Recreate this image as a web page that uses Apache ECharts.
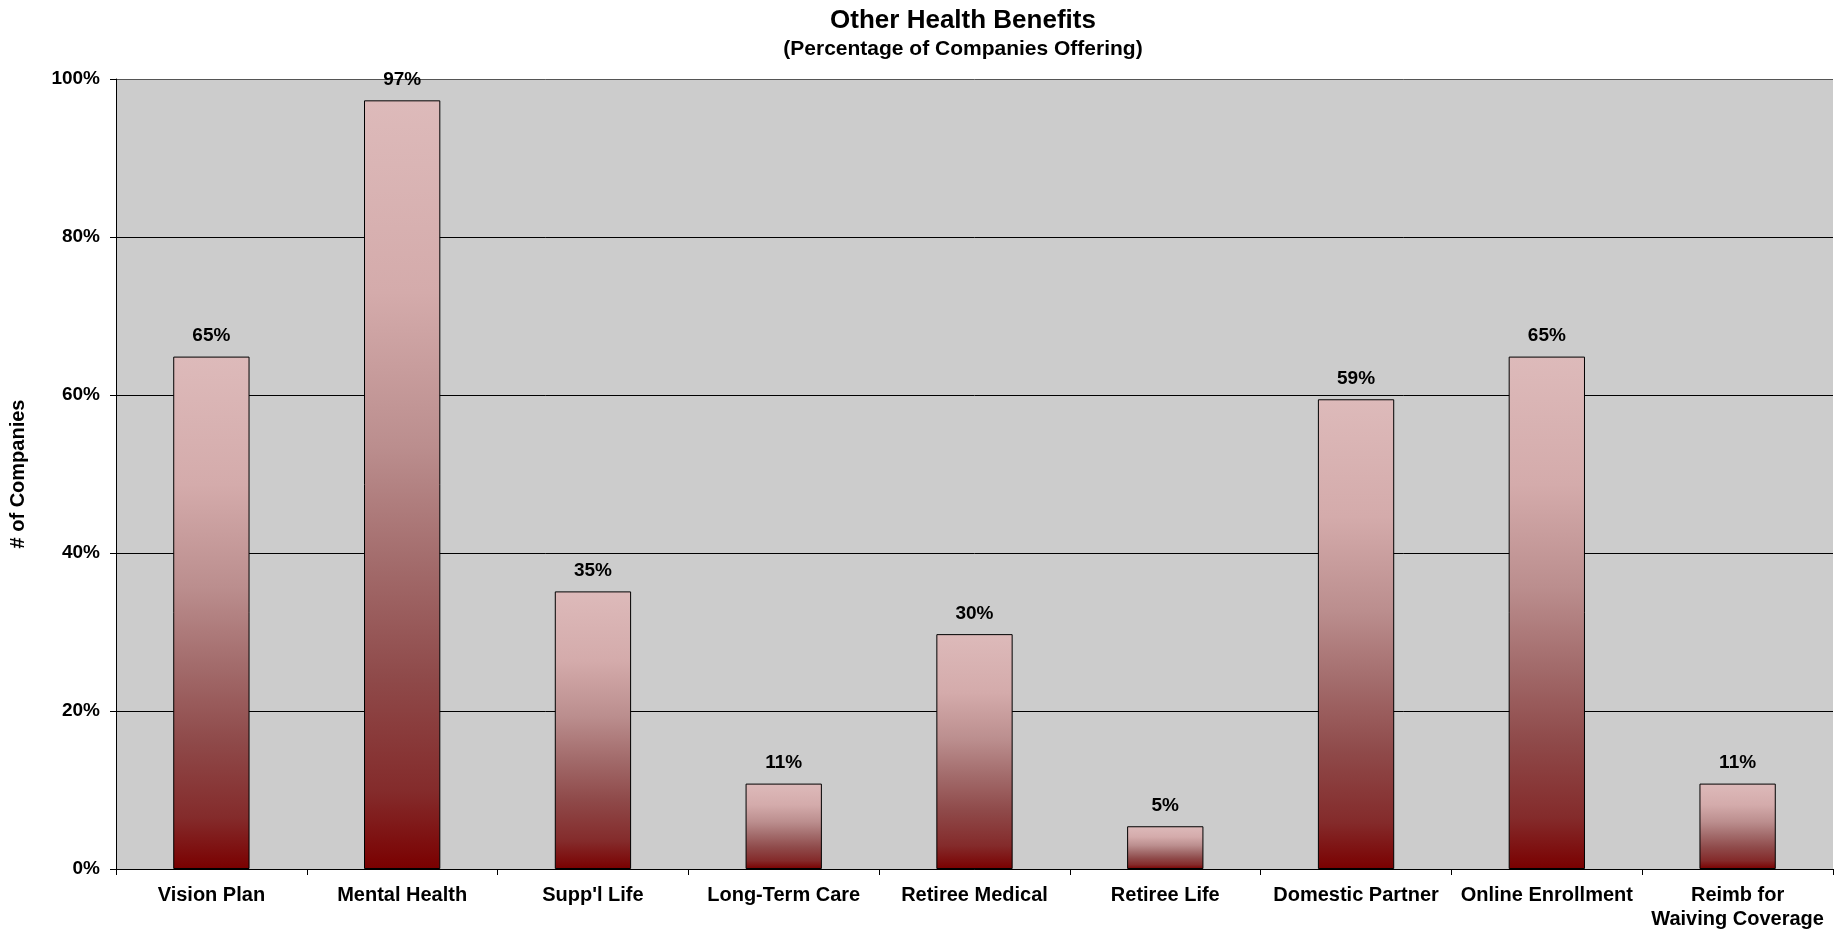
<!DOCTYPE html>
<html><head><meta charset="utf-8">
<script src="https://cdn.jsdelivr.net/npm/echarts@6/dist/echarts.min.js"></script>
<style>html,body{margin:0;padding:0;background:#fff}#c{width:1845px;height:931px}</style>
</head><body><div id="c"></div>
<script>
const categories = ['Vision Plan','Mental Health',"Supp'l Life",'Long-Term Care','Retiree Medical','Retiree Life','Domestic Partner','Online Enrollment','Reimb for\nWaiving Coverage'];
const values = [64.86, 97.30, 35.14, 10.81, 29.73, 5.41, 59.46, 64.86, 10.81];
const yTicks = [0, 20, 40, 60, 80, 100];

const chart = echarts.init(document.getElementById('c'));
const FF = '"Liberation Sans", Arial, sans-serif';
chart.setOption({
  animation: false,
  title: {
    text: 'Other Health Benefits',
    subtext: '(Percentage of Companies Offering)',
    left: 958, textAlign: 'center', top: 3, itemGap: 5,
    textStyle: {fontFamily: FF, fontWeight: 'bold', fontSize: 26, color: '#000'},
    subtextStyle: {fontFamily: FF, fontWeight: 'bold', fontSize: 21, color: '#000'}
  },
  grid: {left: 116, right: 12, top: 79, bottom: 60, show: true, backgroundColor: '#cccccc', borderWidth: 0},
  xAxis: {
    type: 'category', data: categories,
    axisLine: {lineStyle: {color: '#000', width: 1}},
    axisTick: {show: true, length: 6, lineStyle: {color: '#000'}},
    axisLabel: {fontFamily: FF, fontWeight: 'bold', fontSize: 20, color: '#000', margin: 14, lineHeight: 24, interval: 0}
  },
  yAxis: {
    type: 'value', min: yTicks[0], max: yTicks[yTicks.length-1], interval: 20,
    name: '# of Companies', nameLocation: 'middle', nameGap: 88, nameRotate: 90,
    nameTextStyle: {fontFamily: FF, fontWeight: 'bold', fontSize: 20, color: '#000'},
    axisLine: {show: true, lineStyle: {color: '#000', width: 1}},
    axisTick: {show: true, length: 6, lineStyle: {color: '#000'}},
    axisLabel: {fontFamily: FF, fontWeight: 'bold', fontSize: 19, color: '#000', margin: 16, formatter: '{value}%'},
    splitLine: {show: true, lineStyle: {color: ['#000','#000','#000','#000','#000','#555'], width: 1}}
  },
  series: [{
    type: 'bar', data: values, barWidth: '40%',
    itemStyle: {
      borderColor: '#000', borderWidth: 1,
      color: new echarts.graphic.LinearGradient(0, 0, 0, 1, [
        {offset: 0, color: '#ddbaba'},
        {offset: 0.25, color: '#d4abab'},
        {offset: 0.45, color: '#bb8e8e'},
        {offset: 0.6, color: '#a36c6c'},
        {offset: 0.75, color: '#8f4a4a'},
        {offset: 0.9, color: '#842b2b'},
        {offset: 1, color: '#7a0000'}
      ])
    },
    label: {show: true, position: 'top', distance: 11, fontFamily: FF, fontWeight: 'bold', fontSize: 19, color: '#000',
      formatter: p => Math.round(p.value) + '%'}
  }]
});
</script></body></html>
